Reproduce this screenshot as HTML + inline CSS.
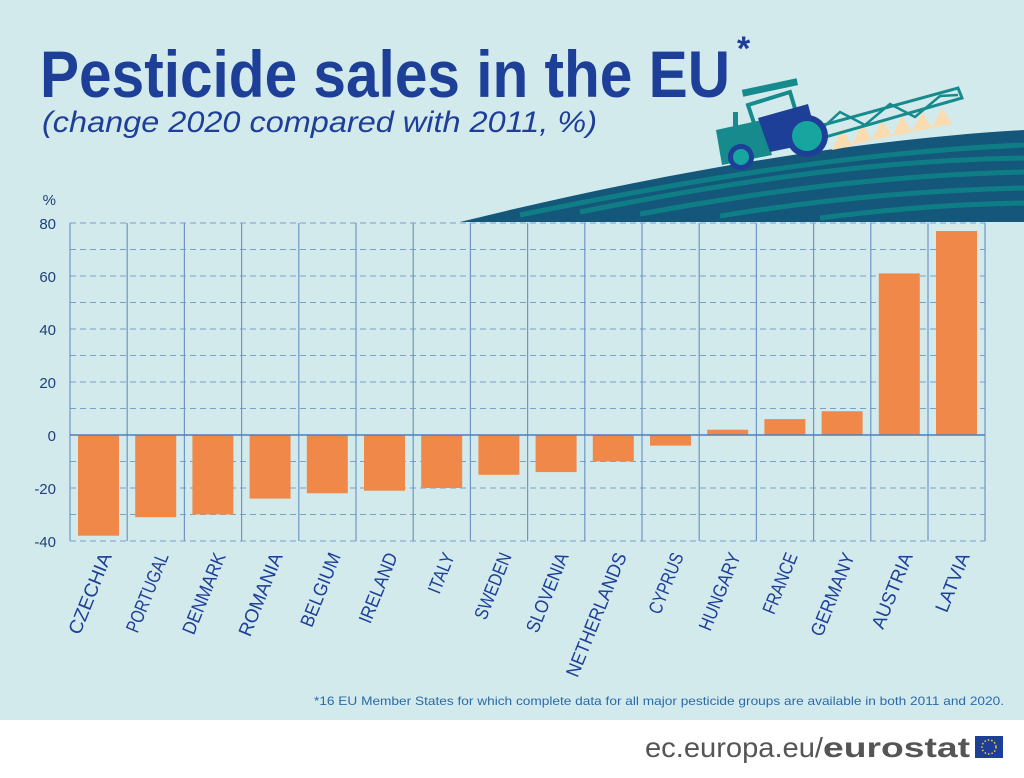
<!DOCTYPE html>
<html><head><meta charset="utf-8"><style>
body{margin:0;width:1024px;height:773px;overflow:hidden;background:#fff;font-family:"Liberation Sans",sans-serif}
</style></head><body>
<svg width="1024" height="773" xmlns="http://www.w3.org/2000/svg" font-family="Liberation Sans, sans-serif">
<rect x="0" y="0" width="1024" height="720" fill="#d3eaed"/>
<text x="40" y="97" font-size="66" font-weight="bold" fill="#1e3f97" textLength="690" lengthAdjust="spacingAndGlyphs">Pesticide sales in the EU</text>
<text x="737" y="60" font-size="34" font-weight="bold" fill="#1e3f97">*</text>
<text x="42" y="132" font-size="30" font-style="italic" fill="#1e3f97" textLength="555" lengthAdjust="spacingAndGlyphs">(change 2020 compared with 2011, %)</text>
<!-- hill -->
<path d="M460,222 C650,175 850,140 1024,130 L1024,222 Z" fill="#14577a"/>
<path d="M520,215 C700,178 860,152 1024,145" stroke="#0f7d86" stroke-width="5" fill="none"/>
<path d="M580,212 C740,180 880,160 1024,158" stroke="#0f7d86" stroke-width="5" fill="none"/>
<path d="M640,214 C780,188 900,175 1024,172" stroke="#0f7d86" stroke-width="5" fill="none"/>
<path d="M720,216 C830,198 930,190 1024,188" stroke="#0f7d86" stroke-width="5" fill="none"/>
<path d="M820,218 C900,208 960,204 1024,203" stroke="#0f7d86" stroke-width="5" fill="none"/>
<!-- tractor -->
<g fill="#fbdcb0"><polygon points="832,150 842,128 852,146"/><polygon points="852,145 862,124 872,140"/><polygon points="872,140 882,120 892,136"/><polygon points="892,136 902,116 912,132"/><polygon points="912,132 922,112 932,128"/><polygon points="932,128 942,108 952,124"/></g>
<polygon points="805,130 958,88 962,98 815,140" fill="none" stroke="#168a8c" stroke-width="3"/>
<path d="M815,135 L840,112 L865,125 L890,104 L915,117 L940,96 L958,95" stroke="#168a8c" stroke-width="2.5" fill="none"/>
<polygon points="748,105 790,92 800,125 758,135" fill="none" stroke="#168a8c" stroke-width="4"/>
<rect x="742" y="84" width="56" height="7" fill="#168a8c" transform="rotate(-12 770 88)"/>
<polygon points="716,130 762,120 772,155 722,165" fill="#168a8c"/>
<rect x="733" y="112" width="5" height="18" fill="#168a8c"/>
<polygon points="758,118 808,104 818,142 770,152" fill="#1e3f97"/>
<circle cx="807" cy="136" r="21" fill="#1e3f97"/><circle cx="807" cy="136" r="15" fill="#17a5a0"/>
<circle cx="741" cy="157" r="13" fill="#1e3f97"/><circle cx="741" cy="157" r="8" fill="#17a5a0"/>
<!-- axes -->
<g stroke="#7ba0c8" stroke-width="1" stroke-dasharray="6,4">
<line x1="70" y1="223" x2="985" y2="223"/><line x1="70" y1="249.5" x2="985" y2="249.5"/><line x1="70" y1="276" x2="985" y2="276"/><line x1="70" y1="302.5" x2="985" y2="302.5"/><line x1="70" y1="329" x2="985" y2="329"/><line x1="70" y1="355.5" x2="985" y2="355.5"/><line x1="70" y1="382" x2="985" y2="382"/><line x1="70" y1="408.5" x2="985" y2="408.5"/><line x1="70" y1="461.5" x2="985" y2="461.5"/><line x1="70" y1="488" x2="985" y2="488"/><line x1="70" y1="514.5" x2="985" y2="514.5"/><line x1="70" y1="541" x2="985" y2="541"/>
</g>
<g stroke="#6f96c4" stroke-width="1.2">
<line x1="70" y1="223" x2="70" y2="541"/><line x1="127.2" y1="223" x2="127.2" y2="541"/><line x1="184.4" y1="223" x2="184.4" y2="541"/><line x1="241.6" y1="223" x2="241.6" y2="541"/><line x1="298.8" y1="223" x2="298.8" y2="541"/><line x1="356" y1="223" x2="356" y2="541"/><line x1="413.2" y1="223" x2="413.2" y2="541"/><line x1="470.4" y1="223" x2="470.4" y2="541"/><line x1="527.6" y1="223" x2="527.6" y2="541"/><line x1="584.8" y1="223" x2="584.8" y2="541"/><line x1="642" y1="223" x2="642" y2="541"/><line x1="699.2" y1="223" x2="699.2" y2="541"/><line x1="756.4" y1="223" x2="756.4" y2="541"/><line x1="813.6" y1="223" x2="813.6" y2="541"/><line x1="870.8" y1="223" x2="870.8" y2="541"/><line x1="928" y1="223" x2="928" y2="541"/><line x1="985" y1="223" x2="985" y2="541"/>
</g>
<g fill="#f0884a">
<rect x="78" y="435" width="41" height="100.7"/>
<rect x="135.2" y="435" width="41" height="82.2"/>
<rect x="192.4" y="435" width="41" height="79.5"/>
<rect x="249.6" y="435" width="41" height="63.6"/>
<rect x="306.8" y="435" width="41" height="58.3"/>
<rect x="364" y="435" width="41" height="55.7"/>
<rect x="421.2" y="435" width="41" height="53"/>
<rect x="478.4" y="435" width="41" height="39.8"/>
<rect x="535.6" y="435" width="41" height="37.1"/>
<rect x="592.8" y="435" width="41" height="26.5"/>
<rect x="650" y="435" width="41" height="10.6"/>
<rect x="707.2" y="429.7" width="41" height="5.3"/>
<rect x="764.4" y="419.1" width="41" height="15.9"/>
<rect x="821.6" y="411.2" width="41" height="23.8"/>
<rect x="878.8" y="273.4" width="41" height="161.6"/>
<rect x="936" y="231" width="41" height="204"/>
</g>
<line x1="70" y1="435" x2="985" y2="435" stroke="#4f7fb8" stroke-width="1.5"/>
<g font-size="15" fill="#1e3f7a" text-anchor="end">
<text x="56" y="205">%</text>
<text x="56" y="229">80</text><text x="56" y="282">60</text><text x="56" y="335">40</text><text x="56" y="388">20</text><text x="56" y="441">0</text><text x="56" y="494">-20</text><text x="56" y="547">-40</text>
</g>
<g font-size="19" fill="#1e3f97" text-anchor="end">
<text transform="translate(112,556) rotate(-68)" textLength="86" lengthAdjust="spacingAndGlyphs">CZECHIA</text>
<text transform="translate(169,556) rotate(-68)" textLength="84" lengthAdjust="spacingAndGlyphs">PORTUGAL</text>
<text transform="translate(226,556) rotate(-68)" textLength="86" lengthAdjust="spacingAndGlyphs">DENMARK</text>
<text transform="translate(283,556) rotate(-68)" textLength="88" lengthAdjust="spacingAndGlyphs">ROMANIA</text>
<text transform="translate(341,556) rotate(-68)" textLength="78" lengthAdjust="spacingAndGlyphs">BELGIUM</text>
<text transform="translate(398,556) rotate(-68)" textLength="74" lengthAdjust="spacingAndGlyphs">IRELAND</text>
<text transform="translate(455,556) rotate(-68)" textLength="42" lengthAdjust="spacingAndGlyphs">ITALY</text>
<text transform="translate(512,556) rotate(-68)" textLength="70" lengthAdjust="spacingAndGlyphs">SWEDEN</text>
<text transform="translate(569,556) rotate(-68)" textLength="84" lengthAdjust="spacingAndGlyphs">SLOVENIA</text>
<text transform="translate(627,556) rotate(-68)" textLength="132" lengthAdjust="spacingAndGlyphs">NETHERLANDS</text>
<text transform="translate(684,556) rotate(-68)" textLength="64" lengthAdjust="spacingAndGlyphs">CYPRUS</text>
<text transform="translate(741,556) rotate(-68)" textLength="82" lengthAdjust="spacingAndGlyphs">HUNGARY</text>
<text transform="translate(798,556) rotate(-68)" textLength="64" lengthAdjust="spacingAndGlyphs">FRANCE</text>
<text transform="translate(855,556) rotate(-68)" textLength="88" lengthAdjust="spacingAndGlyphs">GERMANY</text>
<text transform="translate(913,556) rotate(-68)" textLength="80" lengthAdjust="spacingAndGlyphs">AUSTRIA</text>
<text transform="translate(970,556) rotate(-68)" textLength="62" lengthAdjust="spacingAndGlyphs">LATVIA</text>
</g>
<text x="1004" y="705" font-size="12" fill="#2a6aa8" text-anchor="end" textLength="690" lengthAdjust="spacingAndGlyphs">*16 EU Member States for which complete data for all major pesticide groups are available in both 2011 and 2020.</text>
<text x="645" y="757" font-size="28" fill="#555" textLength="178" lengthAdjust="spacingAndGlyphs">ec.europa.eu/</text>
<text x="823" y="757" font-size="28" font-weight="bold" fill="#555" textLength="147" lengthAdjust="spacingAndGlyphs">eurostat</text>
<rect x="975" y="736" width="28" height="22" fill="#1e3f97"/>
<circle cx="989" cy="747" r="7" fill="none" stroke="#ffd617" stroke-width="1.5" stroke-dasharray="1.5,2"/>
</svg>
</body></html>
